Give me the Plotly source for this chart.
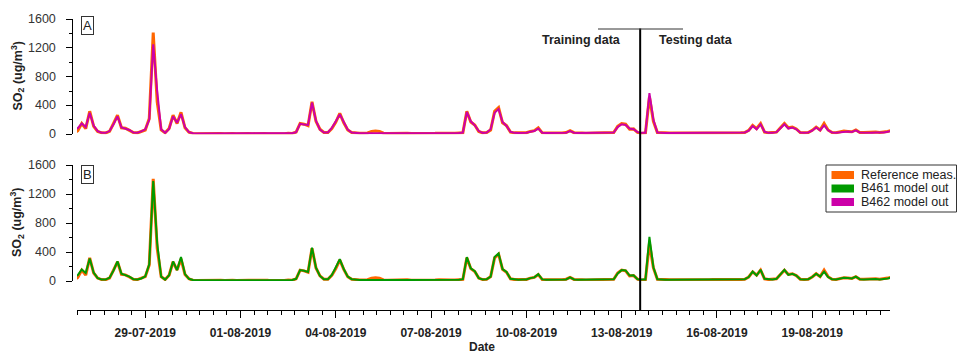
import pandas as pd
import plotly.graph_objects as go

# ---------------- data (3-hourly) ----------------
start_time = "2019-07-26 18:00"
step = "3h"

reference_meas = [
    15, 50, 150, 80, 320, 110, 40, 20,
    18, 40, 150, 265, 90, 85, 55, 25,
    20, 40, 60, 220, 1410, 450, 60, 20,
    80, 265, 150, 305, 90, 30, 12, 8,
    10, 6, 12, 9, 8, 11, 7, 12,
    10, 8, 12, 6, 10, 9, 12, 8,
    11, 9, 7, 12, 10, 8, 14, 12,
    30, 150, 140, 120, 450, 180, 70, 25,
    25, 80, 170, 290, 160, 60, 25, 15,
    15, 14, 18, 40, 45, 38, 15, 12,
    14, 12, 15, 13, 16, 12, 14, 15,
    13, 15, 12, 14, 16, 13, 15, 14,
    15, 18, 22, 320, 170, 130, 40, 20,
    25, 60, 320, 370, 160, 120, 30, 20,
    18, 20, 22, 40, 50, 90, 20, 18,
    16, 18, 20, 18, 25, 50, 22, 16,
    18, 15, 17, 19, 16, 18, 15, 20,
    25, 110, 150, 140, 70, 75, 25, 12,
    20, 520, 180, 25, 18, 20, 18, 17,
    18, 16, 19, 17, 20, 18, 16, 18,
    17, 19, 18, 16, 15, 18, 20, 19,
    20, 25, 55, 125, 80, 150, 30, 20,
    20, 30, 90, 150, 90, 100, 75, 25,
    20, 25, 55, 100, 60, 150, 60, 25,
    22, 30, 45, 40, 35, 60, 25, 25,
    30, 28, 32, 25, 30, 40, 55,
]

b461_model = [
    60, 80, 160, 110, 310, 115, 40, 20,
    20, 45, 145, 270, 100, 80, 60, 25,
    20, 35, 65, 230, 1380, 520, 60, 20,
    80, 270, 150, 330, 95, 30, 13, 11,
    12, 11, 12, 12, 11, 12, 12, 11,
    12, 12, 11, 12, 12, 12, 11, 12,
    12, 11, 12, 12, 12, 11, 13, 14,
    30, 150, 140, 125, 460, 185, 70, 25,
    25, 85, 190, 300, 165, 60, 25, 15,
    15, 15, 16, 17, 17, 16, 15, 15,
    15, 15, 14, 15, 15, 15, 16, 15,
    15, 14, 15, 15, 15, 16, 15, 15,
    15, 18, 25, 330, 175, 135, 40, 20,
    25, 60, 330, 380, 165, 125, 30, 20,
    18, 20, 22, 40, 50, 95, 22, 18,
    18, 18, 19, 18, 22, 50, 22, 18,
    18, 18, 18, 18, 19, 18, 18, 18,
    25, 105, 150, 145, 75, 80, 25, 20,
    20, 610, 190, 25, 18, 18, 18, 18,
    18, 18, 18, 18, 18, 18, 18, 18,
    18, 18, 18, 18, 18, 19, 18, 18,
    20, 25, 55, 130, 75, 155, 30, 20,
    20, 30, 95, 155, 85, 100, 75, 25,
    20, 25, 55, 100, 60, 130, 55, 25,
    22, 30, 45, 40, 35, 60, 25, 22,
    25, 24, 26, 22, 25, 35, 48,
]

b462_model = [
    80, 85, 150, 100, 300, 120, 45, 22,
    20, 45, 140, 250, 95, 80, 60, 25,
    22, 40, 70, 200, 1250, 600, 70, 20,
    75, 250, 160, 280, 100, 30, 14, 12,
    12, 12, 13, 12, 12, 12, 13, 12,
    12, 13, 12, 12, 13, 12, 12, 13,
    12, 12, 13, 12, 12, 13, 14, 15,
    30, 145, 135, 130, 440, 190, 65, 25,
    25, 90, 180, 280, 170, 65, 25, 15,
    15, 15, 15, 18, 18, 16, 15, 15,
    15, 14, 15, 15, 16, 15, 15, 15,
    15, 15, 14, 15, 16, 15, 15, 15,
    16, 18, 25, 310, 180, 125, 45, 20,
    25, 70, 300, 350, 170, 115, 35, 20,
    18, 20, 22, 35, 45, 80, 22, 18,
    18, 18, 19, 18, 22, 45, 22, 18,
    18, 18, 18, 19, 18, 18, 18, 19,
    25, 100, 140, 130, 80, 70, 30, 20,
    22, 570, 200, 25, 18, 18, 18, 18,
    18, 18, 18, 18, 18, 18, 18, 18,
    18, 18, 18, 18, 18, 18, 19, 19,
    20, 25, 50, 115, 70, 140, 35, 20,
    20, 30, 85, 140, 80, 95, 70, 25,
    20, 25, 50, 95, 55, 125, 55, 25,
    22, 28, 42, 38, 33, 55, 25, 22,
    25, 22, 25, 22, 25, 35, 45,
]

series_names = ["Reference meas.", "B461 model out", "B462 model out"]
series_colors = ["#FF6600", "#009A00", "#CC00A8"]
panel_labels = ["A", "B"]
split_time = "2019-08-13 14:00"
split_texts = ["Training data", "Testing data"]
x_range = ["2019-07-26 20:24", "2019-08-21 10:48"]
x_tick0 = "2019-07-29"
y_range = [0, 1600]
y_ticks = [0, 400, 800, 1200, 1600]

times = pd.date_range(start_time, periods=len(reference_meas), freq=step)

# ---------------- figure ----------------
W, H = 957, 353
def px_x(p):
    return p / W
def px_y(p):
    return (H - p) / H

FONT = "Liberation Sans, Arial, sans-serif"
fig = go.Figure()

# top panel: reference + B462
fig.add_trace(go.Scatter(x=times, y=reference_meas, mode="lines", xaxis="x", yaxis="y",
                         line=dict(color=series_colors[0], width=3), showlegend=False))
fig.add_trace(go.Scatter(x=times, y=b462_model, mode="lines", xaxis="x", yaxis="y",
                         line=dict(color=series_colors[2], width=2), showlegend=False))
# bottom panel: reference + B461
fig.add_trace(go.Scatter(x=times, y=reference_meas, mode="lines", xaxis="x", yaxis="y2",
                         line=dict(color=series_colors[0], width=3), showlegend=False))
fig.add_trace(go.Scatter(x=times, y=b461_model, mode="lines", xaxis="x", yaxis="y2",
                         line=dict(color=series_colors[1], width=2), showlegend=False))

yax_common = dict(
    range=y_range, tickvals=y_ticks, ticks="outside", ticklen=6, tickwidth=1,
    tickcolor="#000", showline=True, linecolor="#000", linewidth=1,
    showgrid=False, zeroline=False, anchor="free", position=px_x(72),
    showticklabels=False, automargin=False,
    minor=dict(dtick=200, ticks="outside", ticklen=3, tickcolor="#000", showgrid=False),
)

fig.update_layout(
    width=W, height=H,
    margin=dict(l=0, r=0, t=0, b=0),
    paper_bgcolor="white", plot_bgcolor="white",
    showlegend=False,
    xaxis=dict(
        domain=[px_x(77), px_x(890)], range=x_range, type="date",
        anchor="free", position=px_y(310),
        tick0=x_tick0, dtick=3 * 86400000, tickformat="%d-%m-%Y",
        ticks="outside", ticklen=7, tickcolor="#000", showline=True,
        linecolor="#000", linewidth=1, showgrid=False, zeroline=False,
        tickfont=dict(family=FONT, size=12, color="#222", weight="bold"),
        automargin=False, ticklabelstandoff=5,
        minor=dict(tick0=x_tick0, dtick=3 * 86400000 / 7, ticks="outside",
                   ticklen=4, tickcolor="#000", showgrid=False),
    ),
    yaxis=dict(domain=[px_y(134.3), px_y(19)], **yax_common),
    yaxis2=dict(domain=[px_y(281), px_y(165)], **yax_common),
)

shapes = []
annotations = []

# y tick labels (placed through the y scales)
for yref in ["y", "y2"]:
    for v in y_ticks:
        annotations.append(dict(text=str(v), xref="paper", yref=yref, x=px_x(58), y=v,
                                xanchor="right", yanchor="middle", showarrow=False,
                                font=dict(family=FONT, size=12.5, color="#333")))

# split line and bracket
shapes.append(dict(type="line", xref="x", yref="paper", x0=split_time, x1=split_time,
                   y0=px_y(310), y1=px_y(28.5), line=dict(color="#000", width=2)))
shapes.append(dict(type="line", xref="paper", yref="paper", x0=px_x(598), x1=px_x(683),
                   y0=px_y(29), y1=px_y(29), line=dict(color="#333", width=1)))
annotations.append(dict(text=f"<b>{split_texts[0]}</b>", xref="paper", yref="paper",
                        x=px_x(581), y=px_y(40), xanchor="center", yanchor="middle",
                        showarrow=False, font=dict(family=FONT, size=12.5, color="#222")))
annotations.append(dict(text=f"<b>{split_texts[1]}</b>", xref="paper", yref="paper",
                        x=px_x(696), y=px_y(40), xanchor="center", yanchor="middle",
                        showarrow=False, font=dict(family=FONT, size=12.5, color="#222")))

# panel labels
for lab, yc in zip(panel_labels, [26, 174]):
    annotations.append(dict(text=lab, xref="paper", yref="paper", x=px_x(87), y=px_y(yc),
                            xanchor="center", yanchor="middle", showarrow=False,
                            font=dict(family=FONT, size=13, color="#222"),
                            bordercolor="#333", borderwidth=1, borderpad=1,
                            bgcolor="white"))

# y axis titles
for yc in [76.5, 223]:
    annotations.append(dict(text="<b>SO<sub>2</sub> (ug/m<sup>3</sup>)</b>", xref="paper",
                            yref="paper", x=px_x(17), y=px_y(yc), xanchor="center",
                            yanchor="middle", textangle=-90, showarrow=False,
                            font=dict(family=FONT, size=12.5, color="#222")))

# x axis title
annotations.append(dict(text="<b>Date</b>", xref="paper", yref="paper", x=px_x(482),
                        y=px_y(347), xanchor="center", yanchor="middle", showarrow=False,
                        font=dict(family=FONT, size=12, color="#222")))

# manual legend
shapes.append(dict(type="rect", xref="paper", yref="paper", x0=px_x(826), x1=px_x(956.5),
                   y0=px_y(212), y1=px_y(165), line=dict(color="#333", width=1),
                   fillcolor="white", layer="above"))
legend_rows = [175, 188.5, 202]
for name, col, yr in zip(series_names, series_colors, legend_rows):
    shapes.append(dict(type="rect", xref="paper", yref="paper", x0=px_x(831.5), x1=px_x(854),
                       y0=px_y(yr + 4), y1=px_y(yr - 4), line=dict(width=0),
                       fillcolor=col, layer="above"))
    annotations.append(dict(text=name, xref="paper", yref="paper", x=px_x(859), y=px_y(yr),
                            xanchor="left", yanchor="middle", showarrow=False,
                            font=dict(family=FONT, size=12.5, color="#222")))

fig.update_layout(shapes=shapes, annotations=annotations)

fig.write_html("out.html", config={"displayModeBar": False})
